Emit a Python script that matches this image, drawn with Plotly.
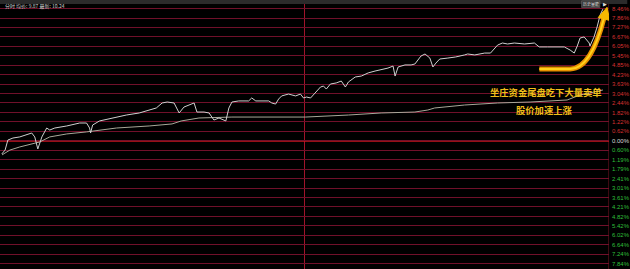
import plotly.graph_objects as go

# ---- data ----
price_min = [0.7, 2.0, 3.1, 5.1, 7.8, 10.6, 12.5, 13.7, 14.9, 16.5, 17.6, 18.4, 19.6, 21.6, 26.3, 31.4,
             34.1, 35.3, 35.7, 36.5, 39.2, 44.3, 49.8, 54.9, 59.6, 61.6, 63.9, 65.9, 68.6, 70.6, 72.5,
             75.3, 76.5, 77.6, 80.4, 82.4, 84.3, 86.3, 89.0, 90.2, 91.4, 94.1, 98.0, 99.2, 100.8, 105.9,
             107.1, 108.6, 109.8, 111.0, 113.7, 116.5, 118.4, 119.6, 120.8, 122.4, 124.3, 126.3, 127.5,
             128.6, 130.2, 132.5, 134.5, 136.1, 137.3, 140.0, 142.4, 145.1, 147.8, 150.2, 152.9, 154.9,
             155.7, 156.9, 159.6, 162.0, 163.5, 165.9, 167.5, 169.4, 170.6, 171.8, 173.3, 176.5, 179.6,
             183.1, 184.3, 187.1, 191.0, 193.3, 196.1, 198.0, 200.0, 202.7, 206.7, 210.6, 212.5, 215.7,
             219.6, 222.4, 224.7, 226.3, 227.5, 228.6, 230.2, 232.2, 232.5, 234.1, 235.3, 236.5, 237.6]
price_pct = [-0.83, -0.58, 0.06, 0.19, 0.26, 0.38, 0.51, 0.26, -0.51, 0.26, 0.64, 0.83, 0.70, 0.83, 0.96,
             1.15, 1.15, 0.83, 0.51, 1.02, 1.28, 1.47, 1.66, 1.79, 1.98, 2.11, 2.43, 2.49, 2.43, 1.79,
             2.17, 2.36, 2.43, 1.85, 1.85, 1.79, 1.34, 1.47, 1.28, 2.11, 2.49, 2.56, 2.56, 2.75, 2.56,
             2.56, 2.43, 2.36, 2.68, 2.88, 3.00, 2.88, 3.00, 2.75, 2.81, 2.75, 3.07, 3.45, 3.51, 3.32,
             3.64, 3.71, 3.83, 3.45, 3.77, 4.09, 4.15, 4.35, 4.47, 4.54, 4.66, 4.79, 4.15, 4.73, 4.86,
             4.86, 4.92, 5.43, 5.56, 5.30, 4.73, 4.98, 5.24, 5.30, 5.37, 5.50, 5.56, 5.50, 5.62, 5.62,
             6.13, 6.26, 6.20, 6.26, 6.20, 6.26, 6.01, 6.01, 6.01, 6.01, 5.81, 5.62, 6.07, 6.58, 6.65,
             6.26, 6.07, 6.65, 7.28, 8.05, 8.43]

avg_min = [0.8, 3.9, 7.8, 12.9, 15.7, 19.6, 26.3, 34.1, 45.9, 58.8, 67.8, 71.4, 78.4, 91.4, 98.0, 120.4,
           137.3, 150.2, 163.5, 168.6, 171.3, 183.1, 196.1, 208.9, 223.5, 228.6, 232.5, 237.6]
avg_pct = [-0.89, -0.58, -0.38, -0.19, -0.06, 0.26, 0.45, 0.58, 0.83, 0.96, 1.09, 1.28, 1.47, 1.53, 1.53,
           1.53, 1.66, 1.79, 1.85, 1.98, 2.11, 2.30, 2.43, 2.49, 2.62, 2.94, 3.07, 3.26]

up_ticks = [8.46, 7.86, 7.27, 6.67, 6.05, 5.45, 4.85, 4.23, 3.63, 3.04, 2.44, 1.82, 1.22, 0.62]
down_ticks = [0.60, 1.19, 1.79, 2.41, 3.01, 3.61, 4.21, 4.82, 5.42, 6.02, 6.64, 7.24, 7.84]

header_text = "分时 均价: 9.87 最新: 10.24"
note1 = "坐庄资金尾盘吃下大量卖单"
note2 = "股价加速上涨"

# ---- build ticks ----
tickvals = up_ticks + [0.0] + [-v for v in down_ticks]
ticktext = ([f'<span style="color:#d83030">{v:.2f}%</span>' for v in up_ticks]
            + ['<span style="color:#d8d8d8">0.00%</span>']
            + [f'<span style="color:#2fbf3a">{v:.2f}%</span>' for v in down_ticks])

fig = go.Figure()
fig.add_trace(go.Scatter(x=avg_min, y=avg_pct, mode="lines",
                         line=dict(color="#a8a89a", width=1), hoverinfo="skip"))
fig.add_trace(go.Scatter(x=price_min, y=price_pct, mode="lines",
                         line=dict(color="#cfcfcf", width=1), hoverinfo="skip"))

shapes = [
    # centre vertical line
    dict(type="line", xref="x", yref="paper", x0=120, x1=120, y0=0, y1=1,
         line=dict(color="#a0142a", width=1), layer="below"),
    # right border
    dict(type="line", xref="x", yref="paper", x0=240, x1=240, y0=0, y1=1,
         line=dict(color="#7a1424", width=1), layer="below"),
    # zero line
    dict(type="line", xref="paper", yref="y", x0=0, x1=1, y0=0, y1=0,
         line=dict(color="#c8161e", width=1.5), layer="below"),
    # top header strip
    dict(type="rect", xref="paper", yref="paper", x0=0, x1=1.03, y0=0.985, y1=1,
         fillcolor="#2b2b2b", line=dict(width=0), layer="below"),
    # yellow curved arrow (outer)
    dict(type="path", xref="x", yref="y",
         path="M 212.55,4.602 L 224.71,4.602 C 231.37,4.602 235.29,6.136 238.04,7.862",
         line=dict(color="#e89000", width=5)),
    dict(type="path", xref="x", yref="y",
         path="M 212.55,4.602 L 224.71,4.602 C 231.37,4.602 235.29,6.136 238.04,7.862",
         line=dict(color="#ffd21a", width=2)),
    dict(type="path", xref="x", yref="y",
         path="M 235.76,7.894 L 240.31,7.702 L 239.22,8.540 Z",
         fillcolor="#f5b800", line=dict(color="#f5b800", width=1)),
    # history button
    dict(type="rect", xref="paper", yref="paper", x0=0.955, x1=0.985, y0=0.972, y1=0.997,
         fillcolor="#3a3a3a", line=dict(color="#777777", width=0.5)),
]

annotations = [
    dict(text=header_text, xref="paper", yref="paper", x=0.005, y=1.0, xanchor="left", yanchor="top",
         showarrow=False, font=dict(size=5, color="#cfcfcf", family="Noto Sans CJK SC")),
    dict(text="历史量能", xref="paper", yref="paper", x=0.970, y=0.985, xanchor="center", yanchor="middle",
         showarrow=False, font=dict(size=4, color="#dddddd", family="Noto Sans CJK SC")),
    dict(text="▶", xref="paper", yref="paper", x=0.993, y=0.985, xanchor="center", yanchor="middle",
         showarrow=False, font=dict(size=5, color="#dddddd")),
    dict(text=f"<b>{note1}</b>", xref="paper", yref="paper", x=549 / 612, y=1 - 91.5 / 269,
         xanchor="center", yanchor="middle", showarrow=False,
         font=dict(size=9.3, color="#f2bf1a", family="Noto Sans CJK SC")),
    dict(text=f"<b>{note2}</b>", xref="paper", yref="paper", x=547 / 612, y=1 - 110 / 269,
         xanchor="center", yanchor="middle", showarrow=False,
         font=dict(size=9.3, color="#f2bf1a", family="Noto Sans CJK SC")),
]

fig.update_layout(
    width=630, height=269,
    margin=dict(l=0, r=18, t=0, b=0),
    paper_bgcolor="#000000", plot_bgcolor="#000000",
    showlegend=False,
    xaxis=dict(range=[0, 240], visible=False, fixedrange=True),
    yaxis=dict(range=[-8.18, 9.01], side="right", tickvals=tickvals, ticktext=ticktext,
               showgrid=True, gridcolor="#70102a", gridwidth=1, zeroline=False,
               ticks="", ticklabelstandoff=2,
               tickfont=dict(size=6, family="Liberation Sans", color="#d83030"),
               fixedrange=True),
    shapes=shapes, annotations=annotations,
)

fig.write_html("out.html")
